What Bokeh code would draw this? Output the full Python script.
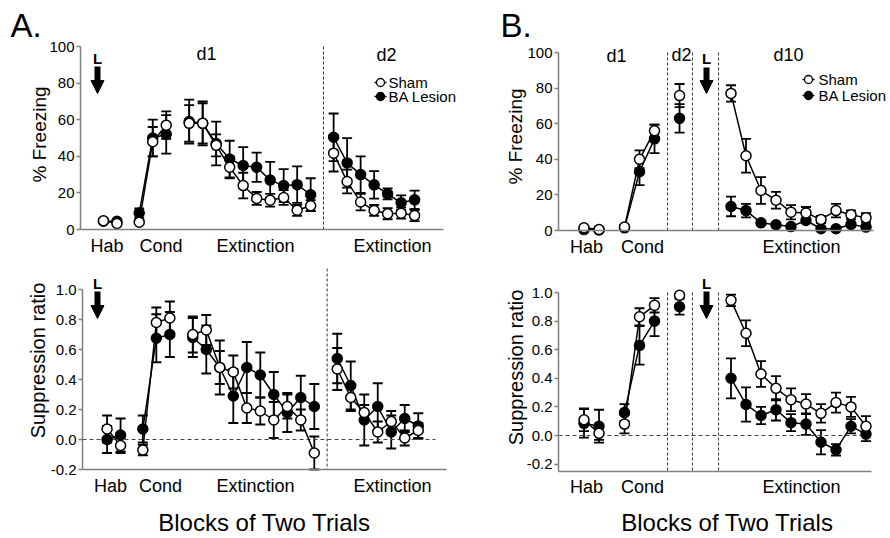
import math
from bokeh.plotting import figure
from bokeh.models import (Range1d, FixedTicker, NumeralTickFormatter, BasicTickFormatter,
                          Label, Whisker, TeeHead, ColumnDataSource, Arrow, NormalHead)
from bokeh.layouts import column, row
from bokeh.embed import file_html
from bokeh.resources import INLINE

# ---------------- data ----------------
# Panel A: x positions of the blocks of two trials
A_HAB_X = [1.7, 2.7]
A_COND_X = [4.35, 5.35, 6.35]
A_EXT1_X = [8.05, 9.05, 10.05, 11.05, 12.05, 13.05, 14.05, 15.05, 16.05, 17.05]
A_EXT2_X = [18.75, 19.75, 20.75, 21.75, 22.75, 23.75, 24.75]
A_DAY_BREAK = [18.0]

# Panel A, % freezing
A_FRZ_SHAM_HAB = [4.8, 3.3]
A_FRZ_SHAM_HAB_SEM = [0.8, 0.8]
A_FRZ_BA_HAB = [4.5, 4.5]
A_FRZ_BA_HAB_SEM = [0.8, 0.8]
A_FRZ_SHAM_COND = [4.0, 48.0, 57.0]
A_FRZ_SHAM_COND_SEM = [1.0, 8.0, 7.5]
A_FRZ_BA_COND = [9.0, 50.0, 52.0]
A_FRZ_BA_COND_SEM = [2.5, 10.0, 10.5]
A_FRZ_SHAM_EXT1 = [58, 58, 46, 34, 24, 17, 16, 17.5, 10.5, 13]
A_FRZ_SHAM_EXT1_SEM = [10, 11, 6, 6, 7, 3.5, 3.5, 4, 3, 3]
A_FRZ_BA_EXT1 = [59, 58, 47, 38.5, 35, 34, 27, 24, 24.5, 19]
A_FRZ_BA_EXT1_SEM = [12, 12, 12, 10, 10, 8, 10, 9, 10, 9]
A_FRZ_SHAM_EXT2 = [41.7, 26.2, 15, 10.4, 8.6, 8.9, 7.6]
A_FRZ_SHAM_EXT2_SEM = [10, 6.5, 4.5, 3, 3, 3, 3]
A_FRZ_BA_EXT2 = [50.4, 36.4, 30, 24.4, 19.5, 14.6, 16.2]
A_FRZ_BA_EXT2_SEM = [13, 13.5, 10, 7.5, 3, 4, 5]

# Panel A, suppression ratio
A_SUP_SHAM_HAB = [0.07, -0.04]
A_SUP_SHAM_HAB_SEM = [0.09, 0.05]
A_SUP_BA_HAB = [0.0, 0.03]
A_SUP_BA_HAB_SEM = [0.09, 0.11]
A_SUP_SHAM_COND = [-0.07, 0.78, 0.81]
A_SUP_SHAM_COND_SEM = [0.035, 0.10, 0.11]
A_SUP_BA_COND = [0.07, 0.675, 0.70]
A_SUP_BA_COND_SEM = [0.09, 0.16, 0.15]
A_SUP_SHAM_EXT1 = [0.70, 0.73, 0.48, 0.45, 0.21, 0.19, 0.13, 0.22, 0.13, -0.09]
A_SUP_SHAM_EXT1_SEM = [0.12, 0.10, 0.11, 0.11, 0.10, 0.09, 0.12, 0.08, 0.07, 0.11]
A_SUP_BA_EXT1 = [0.68, 0.60, 0.48, 0.29, 0.48, 0.43, 0.30, 0.18, 0.28, 0.22]
A_SUP_BA_EXT1_SEM = [0.13, 0.16, 0.18, 0.18, 0.17, 0.15, 0.15, 0.13, 0.145, 0.15]
A_SUP_SHAM_EXT2 = [0.47, 0.28, 0.18, 0.05, 0.12, 0.01, 0.06]
A_SUP_SHAM_EXT2_SEM = [0.14, 0.09, 0.05, 0.07, 0.07, 0.05, 0.05]
A_SUP_BA_EXT2 = [0.54, 0.36, 0.13, 0.22, 0.05, 0.14, 0.09]
A_SUP_BA_EXT2_SEM = [0.165, 0.16, 0.17, 0.155, 0.11, 0.09, 0.085]

# Panel B: x positions
B_HAB_X = [1.7, 2.7]
B_COND_X = [4.4, 5.4, 6.4]
B_D2_X = [8.07]
B_D10_X = [11.5, 12.5, 13.5, 14.5, 15.5, 16.5, 17.5, 18.5, 19.5, 20.5]
B_DAY_BREAKS = [7.27, 8.93, 10.67]

# Panel B, % freezing
B_FRZ_SHAM_HAB = [1.5, 0.5]
B_FRZ_SHAM_HAB_SEM = [0.5, 0.3]
B_FRZ_BA_HAB = [0.5, 0.3]
B_FRZ_BA_HAB_SEM = [0.3, 0.3]
B_FRZ_SHAM_COND = [1.9, 40.0, 56.0]
B_FRZ_SHAM_COND_SEM = [0.8, 5.0, 3.5]
B_FRZ_BA_COND = [1.5, 33.0, 51.5]
B_FRZ_BA_COND_SEM = [0.8, 7.5, 8.0]
B_FRZ_SHAM_D2 = [75.8]
B_FRZ_SHAM_D2_SEM = [6.5]
B_FRZ_BA_D2 = [63.0]
B_FRZ_BA_D2_SEM = [8.0]
B_FRZ_SHAM_D10 = [77, 42, 22.5, 17, 10.3, 9.9, 6.2, 11.2, 8.8, 7.1]
B_FRZ_SHAM_D10_SEM = [4.6, 9.5, 7.5, 4.7, 4, 3.3, 2, 3.8, 2.5, 2.6]
B_FRZ_BA_D10 = [13.5, 11.2, 4.3, 3.2, 2.2, 5.6, 1.0, 1.0, 3.4, 1.9]
B_FRZ_BA_D10_SEM = [5.5, 3.8, 1, 1, 1, 1.5, 0.8, 1, 1, 1]

# Panel B, suppression ratio
B_SUP_SHAM_HAB = [0.11, 0.015]
B_SUP_SHAM_HAB_SEM = [0.08, 0.045]
B_SUP_BA_HAB = [0.085, 0.065]
B_SUP_BA_HAB_SEM = [0.10, 0.115]
B_SUP_SHAM_COND = [0.08, 0.83, 0.91]
B_SUP_SHAM_COND_SEM = [0.065, 0.06, 0.05]
B_SUP_BA_COND = [0.16, 0.63, 0.80]
B_SUP_BA_COND_SEM = [0.06, 0.135, 0.105]
B_SUP_SHAM_D2 = [0.98]
B_SUP_SHAM_D2_SEM = [0.01]
B_SUP_BA_D2 = [0.90]
B_SUP_BA_D2_SEM = [0.055]
B_SUP_SHAM_D10 = [0.945, 0.715, 0.43, 0.33, 0.25, 0.22, 0.155, 0.23, 0.20, 0.065]
B_SUP_SHAM_D10_SEM = [0.04, 0.09, 0.09, 0.085, 0.08, 0.07, 0.065, 0.07, 0.07, 0.07]
B_SUP_BA_D10 = [0.40, 0.217, 0.14, 0.18, 0.09, 0.08, -0.047, -0.10, 0.065, 0.01]
B_SUP_BA_D10_SEM = [0.14, 0.12, 0.06, 0.075, 0.06, 0.075, 0.085, 0.04, 0.05, 0.05]

FRZ_TICKS = [0, 20, 40, 60, 80, 100]
SUP_TICKS = [-0.2, 0.0, 0.2, 0.4, 0.6, 0.8, 1.0]
SERIES = ["Sham", "BA Lesion"]
A_PHASES = ["Hab", "Cond", "Extinction", "Extinction"]
B_PHASES = ["Hab", "Cond", "Extinction"]

# ---------------- style ----------------
FONT = "Liberation Sans"
GRAY = "#808080"
BLACK = "#000000"


def make_panel(box, xmap, ymap, axis_px, x_end_px, ticks, y_bounds, fmt, phase_px, phases):
    """box in page pixels; the frame covers the whole box; axes are fixed inside it."""
    bx, by, w, h = box
    xp0, xv0, xu = xmap
    yp0, yu = ymap

    def fx(px):
        return xv0 + (px - xp0) / xu

    def fy(py):
        return (yp0 - py) / yu

    p = figure(width=w, height=h, x_range=Range1d(fx(bx), fx(bx + w)),
               y_range=Range1d(fy(by + h), fy(by)),
               x_axis_location="below", y_axis_location="left", toolbar_location=None, tools="",
               output_backend="svg", title=None, min_border=0)
    p.outline_line_color = None
    p.background_fill_color = "white"
    p.border_fill_color = "white"
    p.grid.visible = False

    ya = p.yaxis[0]
    ya.fixed_location = fx(axis_px)
    ya.ticker = FixedTicker(ticks=ticks, minor_ticks=[])
    ya.bounds = y_bounds
    ya.formatter = fmt
    ya.axis_line_color = GRAY
    ya.axis_line_width = 1.5
    ya.major_tick_line_color = GRAY
    ya.major_tick_line_width = 1.5
    ya.major_tick_out = 4
    ya.major_tick_in = 0
    ya.minor_tick_line_color = None
    ya.major_label_text_font = FONT
    ya.major_label_text_font_size = "15px"
    ya.major_label_text_color = BLACK
    ya.major_label_standoff = 2

    xa = p.xaxis[0]
    xa.fixed_location = y_bounds[0]
    xa.bounds = (fx(axis_px), fx(x_end_px))
    tick_x = [fx(px) for px in phase_px]
    xa.ticker = FixedTicker(ticks=tick_x, minor_ticks=[])
    xa.major_label_overrides = {t: lbl for t, lbl in zip(tick_x, phases)}
    xa.axis_line_color = GRAY
    xa.axis_line_width = 1.5
    xa.major_tick_line_color = None
    xa.major_tick_out = 0
    xa.major_tick_in = 0
    xa.minor_tick_line_color = None
    xa.major_label_text_font = FONT
    xa.major_label_text_font_size = "18px"
    xa.major_label_text_color = BLACK
    xa.major_label_standoff = 6
    return p, fx, fy


def text(p, x, y, s, size, align="center", baseline="middle", bold=False, angle=0.0):
    p.add_layout(Label(x=x, y=y, text=s, text_font=FONT, text_font_size=f"{size}px",
                       text_align=align, text_baseline=baseline, angle=angle,
                       text_font_style="bold" if bold else "normal", text_color=BLACK))


def draw_groups(p, groups):
    # error bars first (underlay), then BA lesion, then sham on top
    for xs, s, se, b, be in groups:
        for ys, es in ((b, be), (s, se)):
            src = ColumnDataSource(dict(x=xs,
                                        up=[y + e for y, e in zip(ys, es)],
                                        lo=[y - e for y, e in zip(ys, es)]))
            p.add_layout(Whisker(source=src, base="x", upper="up", lower="lo", dimension="height",
                                 line_color=BLACK, line_width=1.8,
                                 upper_head=TeeHead(size=10, line_color=BLACK, line_width=1.8),
                                 lower_head=TeeHead(size=10, line_color=BLACK, line_width=1.8)))
    for idx, fill in ((3, BLACK), (1, "white")):
        for g in groups:
            xs, ys = g[0], g[idx]
            if len(xs) > 1:
                p.line(xs, ys, line_color=BLACK, line_width=1.5)
            p.scatter(xs, ys, marker="circle", size=10, fill_color=fill, line_color=BLACK, line_width=1.5)


def manual_legend(p, fx, fy, px_marker, rows_py, px_text):
    for name, fill, py in zip(SERIES, ("white", BLACK), rows_py):
        p.line([fx(px_marker - 6), fx(px_marker + 6)], [fy(py), fy(py)], line_color=BLACK, line_width=1.5)
        p.scatter([fx(px_marker)], [fy(py)], marker="circle", size=8, fill_color=fill,
                  line_color=BLACK, line_width=1.3)
        text(p, fx(px_text), fy(py), name, 15, align="left")


def arrow(p, x, y0, y1):
    p.add_layout(Arrow(end=NormalHead(size=13, fill_color=BLACK, line_color=BLACK, line_width=1),
                       x_start=x, y_start=y0, x_end=x, y_end=y1, line_width=6, line_color=BLACK))


def vlines(p, xs, top, bottom):
    p.segment(x0=xs, y0=[top] * len(xs), x1=xs, y1=[bottom] * len(xs),
              line_color="#333333", line_width=1, line_dash="3 2")


# ---------------- panel A, freezing ----------------
pa1, fx, fy = make_panel((0, 0, 478, 255), (80, 0.0, 13.5), (229, 1.83), 80, 443,
                         FRZ_TICKS, (0, 100), BasicTickFormatter(),
                         (106.5, 160.5, 255, 392), A_PHASES)
vlines(pa1, A_DAY_BREAK, 100, 0)
draw_groups(pa1, [
    (A_HAB_X, A_FRZ_SHAM_HAB, A_FRZ_SHAM_HAB_SEM, A_FRZ_BA_HAB, A_FRZ_BA_HAB_SEM),
    (A_COND_X, A_FRZ_SHAM_COND, A_FRZ_SHAM_COND_SEM, A_FRZ_BA_COND, A_FRZ_BA_COND_SEM),
    (A_EXT1_X, A_FRZ_SHAM_EXT1, A_FRZ_SHAM_EXT1_SEM, A_FRZ_BA_EXT1, A_FRZ_BA_EXT1_SEM),
    (A_EXT2_X, A_FRZ_SHAM_EXT2, A_FRZ_SHAM_EXT2_SEM, A_FRZ_BA_EXT2, A_FRZ_BA_EXT2_SEM),
])
text(pa1, fx(10), fy(25), "A.", 33, align="left")
text(pa1, fx(39), fy(134), "% Freezing", 19, angle=math.pi / 2)
text(pa1, fx(206), fy(53), "d1", 18)
text(pa1, fx(386), fy(54), "d2", 18)
text(pa1, fx(97), fy(58), "L", 15, bold=True)
arrow(pa1, fx(97), fy(66), fy(93))
manual_legend(pa1, fx, fy, 380, (82, 96), 388)

# ---------------- panel A, suppression ratio ----------------
pa2, fx, fy = make_panel((0, 255, 478, 283), (82, -0.12, 13.5), (439, 150.0), 82, 446,
                         SUP_TICKS, (-0.2, 1.0), NumeralTickFormatter(format="0.0"),
                         (110, 160, 255, 392), A_PHASES)
pa2.segment(x0=[fx(82)], y0=[0], x1=[fx(435)], y1=[0], line_color="#444444", line_width=1.2, line_dash="4 3")
vlines(pa2, A_DAY_BREAK, fy(268), -0.2)
draw_groups(pa2, [
    (A_HAB_X, A_SUP_SHAM_HAB, A_SUP_SHAM_HAB_SEM, A_SUP_BA_HAB, A_SUP_BA_HAB_SEM),
    (A_COND_X, A_SUP_SHAM_COND, A_SUP_SHAM_COND_SEM, A_SUP_BA_COND, A_SUP_BA_COND_SEM),
    (A_EXT1_X, A_SUP_SHAM_EXT1, A_SUP_SHAM_EXT1_SEM, A_SUP_BA_EXT1, A_SUP_BA_EXT1_SEM),
    (A_EXT2_X, A_SUP_SHAM_EXT2, A_SUP_SHAM_EXT2_SEM, A_SUP_BA_EXT2, A_SUP_BA_EXT2_SEM),
])
text(pa2, fx(37), fy(360), "Suppression ratio", 20, angle=math.pi / 2)
text(pa2, fx(97), fy(283), "L", 15, bold=True)
arrow(pa2, fx(97), fy(291), fy(318))
text(pa2, fx(264), fy(522), "Blocks of Two Trials", 24)

# ---------------- panel B, freezing ----------------
pb1, fx, fy = make_panel((478, 0, 412, 255), (558, 0.0, 15.0), (230, 1.78), 558, 873,
                         FRZ_TICKS, (0, 100), BasicTickFormatter(),
                         (586, 642, 801), B_PHASES)
vlines(pb1, B_DAY_BREAKS, 100, 0)
draw_groups(pb1, [
    (B_HAB_X, B_FRZ_SHAM_HAB, B_FRZ_SHAM_HAB_SEM, B_FRZ_BA_HAB, B_FRZ_BA_HAB_SEM),
    (B_COND_X, B_FRZ_SHAM_COND, B_FRZ_SHAM_COND_SEM, B_FRZ_BA_COND, B_FRZ_BA_COND_SEM),
    (B_D2_X, B_FRZ_SHAM_D2, B_FRZ_SHAM_D2_SEM, B_FRZ_BA_D2, B_FRZ_BA_D2_SEM),
    (B_D10_X, B_FRZ_SHAM_D10, B_FRZ_SHAM_D10_SEM, B_FRZ_BA_D10, B_FRZ_BA_D10_SEM),
])
text(pb1, fx(500), fy(25), "B.", 33, align="left")
text(pb1, fx(515), fy(136), "% Freezing", 19, angle=math.pi / 2)
text(pb1, fx(616), fy(55), "d1", 18)
text(pb1, fx(681), fy(54), "d2", 18)
text(pb1, fx(788), fy(54), "d10", 18)
text(pb1, fx(706), fy(58), "L", 15, bold=True)
arrow(pb1, fx(706), fy(67), fy(93))
manual_legend(pb1, fx, fy, 808, (79, 95), 818)

# ---------------- panel B, suppression ratio ----------------
pb2, fx, fy = make_panel((478, 255, 412, 283), (558, 0.0, 15.0), (435, 143.0), 558, 871,
                         SUP_TICKS, (-0.25, 1.0), NumeralTickFormatter(format="0.0"),
                         (586, 642, 801), B_PHASES)
pb2.segment(x0=[fx(558)], y0=[0], x1=[fx(870)], y1=[0], line_color="#444444", line_width=1.2, line_dash="4 3")
vlines(pb2, B_DAY_BREAKS, 1.0, -0.25)
draw_groups(pb2, [
    (B_HAB_X, B_SUP_SHAM_HAB, B_SUP_SHAM_HAB_SEM, B_SUP_BA_HAB, B_SUP_BA_HAB_SEM),
    (B_COND_X, B_SUP_SHAM_COND, B_SUP_SHAM_COND_SEM, B_SUP_BA_COND, B_SUP_BA_COND_SEM),
    (B_D2_X, B_SUP_SHAM_D2, B_SUP_SHAM_D2_SEM, B_SUP_BA_D2, B_SUP_BA_D2_SEM),
    (B_D10_X, B_SUP_SHAM_D10, B_SUP_SHAM_D10_SEM, B_SUP_BA_D10, B_SUP_BA_D10_SEM),
])
text(pb2, fx(515), fy(367), "Suppression ratio", 20, angle=math.pi / 2)
text(pb2, fx(706), fy(283), "L", 15, bold=True)
arrow(pb2, fx(706), fy(291), fy(318))
text(pb2, fx(727), fy(522), "Blocks of Two Trials", 24)

layout = column(row(pa1, pb1, spacing=0), row(pa2, pb2, spacing=0), spacing=0)
open("out.html", "w").write(file_html(layout, INLINE))
